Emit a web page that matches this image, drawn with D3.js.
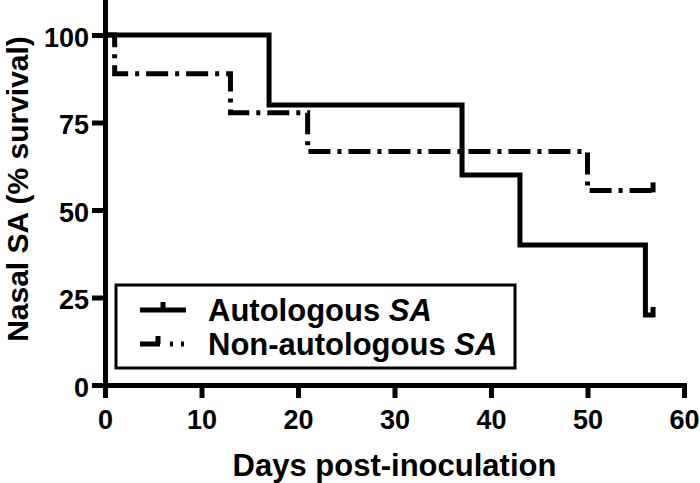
<!DOCTYPE html>
<html>
<head>
<meta charset="utf-8">
<script src="https://cdn.jsdelivr.net/npm/d3@7"></script>
<style>
  body { margin: 0; background: #fff; }
  svg text { font-family: "Liberation Sans", Arial, sans-serif; font-weight: bold; fill: #000; }
</style>
</head>
<body>
<svg id="chart" width="700" height="483"></svg>
<script>
// Kaplan-Meier steps
var autoDays = [0, 17, 37, 43, 56, 57];
var autoSurv = [100, 80, 60, 40, 20, 20];
var nonDays = [0, 1, 13, 21, 50, 57];
var nonSurv = [100, 88.9, 77.8, 66.7, 55.6, 55.6];
var censorDay = 57;

var xTicks = [0, 10, 20, 30, 40, 50, 60];
var yTicks = [0, 25, 50, 75, 100];
var seriesNames = ["Autologous", "Non-autologous"];

var width = 700, height = 483;
var dashDot = "22,7,4,7";

var svg = d3.select("#chart");

var x = d3.scaleLinear().domain([0, 60]).range([105, 684]);
var y = d3.scaleLinear().domain([0, 110]).range([385, 0]);

// axes
var xAxis = svg.append("g")
    .attr("transform", "translate(0," + y(0) + ")")
    .call(d3.axisBottom(x).tickValues(xTicks).tickSize(13).tickSizeOuter(0).tickPadding(12));
var yAxis = svg.append("g")
    .attr("transform", "translate(" + x(0) + ",0)")
    .call(d3.axisLeft(y).tickValues(yTicks).tickSize(13).tickSizeOuter(0).tickPadding(3));

[xAxis, yAxis].forEach(function(g) {
  g.select(".domain").attr("stroke", "#000").attr("stroke-width", 5).attr("stroke-linecap", "square");
  g.selectAll(".tick line").attr("stroke", "#000").attr("stroke-width", 5);
  g.selectAll(".tick text").style("font-size", "27px").attr("font-family", null);
});
xAxis.selectAll(".tick text").attr("dy", "0.71em");
yAxis.selectAll(".tick text").attr("dy", "0.42em");

// survival curves
var line = d3.line()
    .x(function(d) { return x(d[0]); })
    .y(function(d) { return y(d[1]); })
    .curve(d3.curveStepAfter);

function drawCurve(days, surv, dash) {
  var pts = days.map(function(d, i) { return [d, surv[i]]; });
  svg.append("path")
      .attr("d", line(pts))
      .attr("fill", "none")
      .attr("stroke", "#000")
      .attr("stroke-width", 5)
      .attr("stroke-dasharray", dash);
  // censor tick at last point
  var last = surv[surv.length - 1];
  svg.append("line")
      .attr("x1", x(censorDay) - 2).attr("x2", x(censorDay) - 2)
      .attr("y1", y(last) + 2).attr("y2", y(last) - 8)
      .attr("stroke", "#000").attr("stroke-width", 5);
}
drawCurve(autoDays, autoSurv, null);
drawCurve(nonDays, nonSurv, dashDot);

// legend
var legend = svg.append("g");
legend.append("rect")
    .attr("x", 116).attr("y", 285).attr("width", 399).attr("height", 83)
    .attr("fill", "#fff").attr("stroke", "#000").attr("stroke-width", 3);

var rows = [{ y: 310, dash: null, tick: 163 }, { y: 344, dash: "20,10,3,8,3,20", tick: 158 }];
rows.forEach(function(r, i) {
  legend.append("line")
      .attr("x1", 140).attr("x2", 186).attr("y1", r.y).attr("y2", r.y)
      .attr("stroke", "#000").attr("stroke-width", 5)
      .attr("stroke-dasharray", r.dash);
  legend.append("line")
      .attr("x1", r.tick).attr("x2", r.tick).attr("y1", r.y).attr("y2", r.y - 8)
      .attr("stroke", "#000").attr("stroke-width", 5);
  var t = legend.append("text")
      .attr("x", 208).attr("y", r.y + 11)
      .style("font-size", "31px");
  t.append("tspan").text(seriesNames[i] + " ");
  t.append("tspan").style("font-style", "italic").text("SA");
});

// axis titles
svg.append("text")
    .attr("x", (x(0) + x(60)) / 2).attr("y", 476)
    .attr("text-anchor", "middle")
    .style("font-size", "31px")
    .text("Days post-inoculation");

svg.append("text")
    .attr("transform", "translate(28," + 189 + ") rotate(-90)")
    .attr("text-anchor", "middle")
    .style("font-size", "30px")
    .text("Nasal SA (% survival)");
</script>
</body>
</html>
